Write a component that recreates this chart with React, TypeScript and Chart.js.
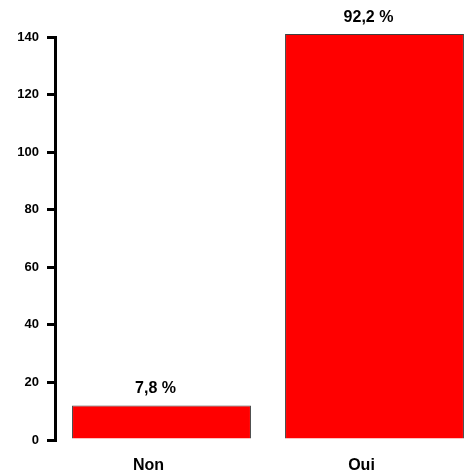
import React, { useEffect, useRef } from "react";
import { Chart, registerables } from "chart.js";

Chart.register(...registerables);

const categories = ["Non", "Oui"];
const counts = [12, 141];
const percentLabels = ["7,8 %", "92,2 %"];
const yMin = 0;
const yMax = 140;
const yStep = 20;

const FONT = "'Liberation Sans', Arial, sans-serif";

const valueLabelPlugin = {
  id: "valueLabels",
  afterDatasetsDraw(chart: any) {
    const ctx = chart.ctx;
    const meta = chart.getDatasetMeta(0);
    ctx.save();
    ctx.font = `bold 16px ${FONT}`;
    ctx.fillStyle = "#000";
    ctx.textAlign = "center";
    ctx.textBaseline = "middle";
    meta.data.forEach((bar: any, i: number) => {
      ctx.fillText(percentLabels[i], bar.x - 6, bar.y - 17);
    });
    ctx.restore();
  },
};

export default function App() {
  const ref = useRef<HTMLCanvasElement>(null);
  useEffect(() => {
    if (!ref.current) return;
    const chart = new Chart(ref.current, {
      type: "bar",
      data: {
        labels: categories,
        datasets: [
          {
            data: counts,
            backgroundColor: "#ff0000",
            borderColor: "#404040",
            borderWidth: 1,
            barPercentage: 0.84,
            categoryPercentage: 1,
            clip: false,
          },
        ],
      },
      options: {
        responsive: false,
        animation: false,
        devicePixelRatio: 1,
        layout: { padding: { top: 37, left: 0, right: 0, bottom: 0 } },
        plugins: { legend: { display: false }, tooltip: { enabled: false } },
        scales: {
          x: {
            grid: { display: false },
            border: { display: false },
            ticks: {
              color: "#000",
              font: { family: FONT, size: 16, weight: "bold" },
              padding: 8,
              labelOffset: -13,
            },
            afterFit: (s: any) => {
              s.height = 35;
            },
          },
          y: {
            min: yMin,
            max: yMax,
            grid: {
              drawOnChartArea: false,
              drawTicks: true,
              tickLength: 8,
              lineWidth: 3,
              color: "#000",
            },
            border: { display: true, width: 3, color: "#000" },
            ticks: {
              stepSize: yStep,
              color: "#000",
              font: { family: FONT, size: 13, weight: "bold" },
              padding: 8,
            },
            afterFit: (s: any) => {
              s.width = 55;
            },
          },
        },
      },
      plugins: [valueLabelPlugin],
    });
    return () => chart.destroy();
  }, []);
  return (
    <div
      style={{
        position: "fixed",
        left: 0,
        top: 0,
        width: 465,
        height: 475,
        overflow: "hidden",
        background: "#fff",
      }}
    >
      <canvas ref={ref} width={481} height={475} style={{ display: "block" }} />
    </div>
  );
}
